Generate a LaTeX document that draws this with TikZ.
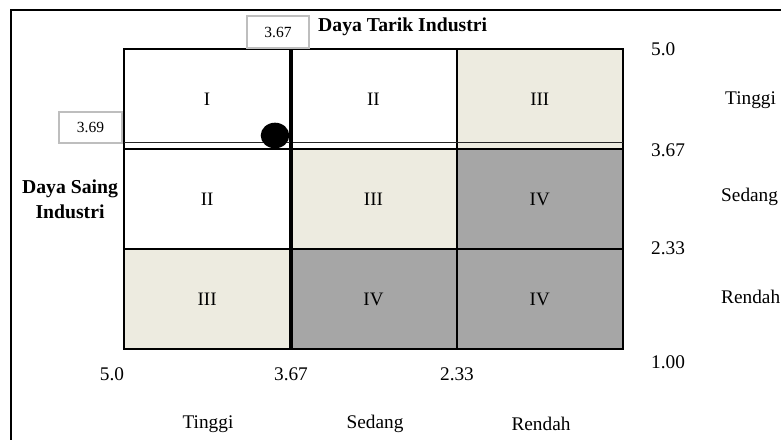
\documentclass[tikz,border=0pt]{standalone}
\usepackage{fontspec}
\setmainfont{Liberation Serif}
\definecolor{beige}{RGB}{237,235,224}
\definecolor{darkcell}{RGB}{166,166,166}
\definecolor{boxgray}{RGB}{190,190,190}
\begin{document}
\begin{tikzpicture}[x=1pt,y=-1pt,
  cell/.style={draw,line width=2pt,minimum width=166.3pt,minimum height=100pt,inner sep=0pt,font=\fontsize{19}{22}\selectfont},
  valbox/.style={draw=boxgray,line width=1.6pt,fill=white,inner sep=0pt,font=\fontsize{15.5}{18}\selectfont},
  lbl/.style={font=\fontsize{19.3}{22}\selectfont,inner sep=0pt},
  title/.style={font=\fontsize{19.7}{25}\selectfont\bfseries,inner sep=0pt}]

  \useasboundingbox (0,0) rectangle (781,439);
  \clip (0,0) rectangle (781,439);
  \draw[line width=1.8pt] (11,10) rectangle (800,460);

  \node[cell] (c11) at (207.15,99) {I};
  \node[cell] (c12) at (373.45,99) {II};
  \node[cell,fill=beige] (c13) at (539.75,99) {III};
  \node[cell] (c21) at (207.15,199) {II};
  \node[cell,fill=beige] (c22) at (373.45,199) {III};
  \node[cell,fill=darkcell] (c23) at (539.75,199) {IV};
  \node[cell,fill=beige] (c31) at (207.15,299) {III};
  \node[cell,fill=darkcell] (c32) at (373.45,299) {IV};
  \node[cell,fill=darkcell] (c33) at (539.75,299) {IV};

  \coordinate (m1) at (124,142.5);
  \coordinate (m2) at (623,142.5);
  \draw[line width=1.8pt,black!85] (m1) -- (m2);
  \draw[line width=3.2pt] (c11.north east) -- (c31.south east);
  \fill (275,135.5) ellipse (14.3 and 12.8);

  \node[valbox,minimum width=62pt,minimum height=32pt] (bx) at (278,32) {3.67};
  \node[valbox,minimum width=63pt,minimum height=31pt] (by) at (90.5,127.5) {3.69};

  \node[title,anchor=west] (tx) at (318,27) {Daya Tarik Industri};
  \node[title,align=center] (ty) at (70,199.5) {Daya Saing\\Industri};

  \node[lbl,anchor=west] (r1) at (651,49) {5.0};
  \node[lbl,anchor=west] (r2) at (651,150) {3.67};
  \node[lbl,anchor=west] (r3) at (651,248) {2.33};
  \node[lbl,anchor=west] (r4) at (651,362) {1.00};
  \node[lbl,anchor=west] (t1) at (725,100) {Tinggi};
  \node[lbl,anchor=west] (t2) at (721,197) {Sedang};
  \node[lbl,anchor=west] (t3) at (721,297) {Rendah};

  \node[lbl] (b1) at (112,374) {5.0};
  \node[lbl] (b2) at (291,374) {3.67};
  \node[lbl] (b3) at (457,374) {2.33};
  \node[lbl] (s1) at (208,424) {Tinggi};
  \node[lbl] (s2) at (375,424) {Sedang};
  \node[lbl] (s3) at (541,424) {Rendah};
\end{tikzpicture}
\end{document}
